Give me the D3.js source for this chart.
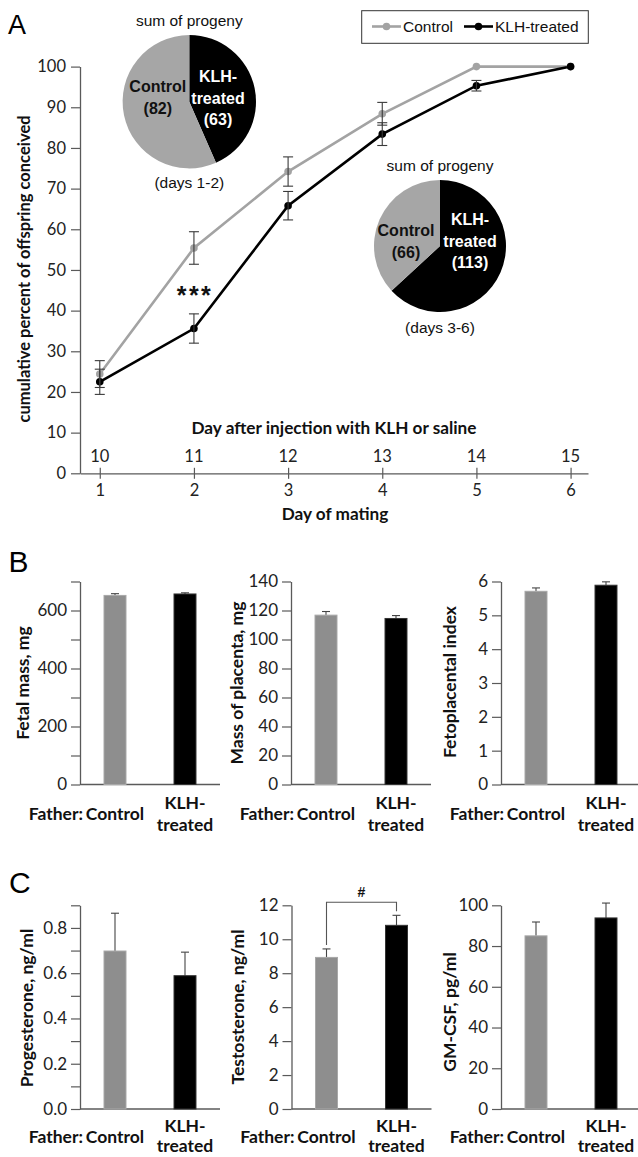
<!DOCTYPE html>
<html><head><meta charset="utf-8">
<script src="https://cdn.jsdelivr.net/npm/d3@7"></script>
<style>
body{margin:0;background:#fff;}
svg{display:block;}
</style></head>
<body>
<svg id="chart" width="638" height="1157"></svg>
<script>
// ---------- DATA ----------
const matingDays = [1, 2, 3, 4, 5, 6];
const injectionDays = [10, 11, 12, 13, 14, 15];
const controlCum = [24.4, 55.4, 74.2, 88.4, 100, 100];
const controlErr = [3.3, 4.0, 3.6, 2.8, 0, 0];
const klhCum = [22.5, 35.6, 65.8, 83.4, 95.3, 100];
const klhErr = [3.1, 3.6, 3.5, 2.8, 1.3, 0];
const yTicksA = [0, 10, 20, 30, 40, 50, 60, 70, 80, 90, 100];

const pieDays12 = [{name: "KLH-treated", value: 63}, {name: "Control", value: 82}];
const pieDays36 = [{name: "KLH-treated", value: 113}, {name: "Control", value: 66}];

const groups = ["Control", "KLH-treated"];
const fetalMass = [652, 657], fetalMassErr = [6, 4];
const placentaMass = [116.8, 114.5], placentaMassErr = [2.5, 2.0];
const fetoplacental = [5.71, 5.89], fetoplacentalErr = [0.10, 0.10];
const progesterone = [0.698, 0.589], progesteroneErr = [0.167, 0.104];
const testosterone = [8.93, 10.82], testosteroneErr = [0.50, 0.59];
const gmcsf = [85.0, 93.8], gmcsfErr = [6.8, 7.3];

// ---------- STYLE ----------
const GRAY_LINE = "#a3a3a3", GRAY_PIE = "#a6a6a6", GRAY_BAR = "#8e8e8e";
const AXIS = "#5a5a5a";
const CAL = "Lato, 'Open Sans', sans-serif";
const ARIAL = "'Liberation Sans', Arial, sans-serif";

const svg = d3.select("#chart");
svg.append("rect").attr("width", 638).attr("height", 1157).attr("fill", "#fff");

// ---------- PANEL A ----------
const gA = svg.append("g");
const xA = d3.scaleLinear().domain([0.79, 6.185]).range([80, 588]);
const yA = d3.scaleLinear().domain([0, 100]).range([473.3, 66.6]);

gA.append("text").text("A").attr("x", 8).attr("y", 33.5)
  .attr("font-family", ARIAL).attr("font-size", 27).attr("fill", "#000");

const yAxA = gA.append("g").attr("transform", "translate(80,0)")
  .call(d3.axisLeft(yA).tickValues(yTicksA).tickSize(9).tickSizeOuter(0).tickPadding(5));
yAxA.select(".domain").attr("stroke", AXIS).attr("stroke-width", 1.3);
yAxA.selectAll(".tick line").attr("stroke", AXIS).attr("stroke-width", 1.2);
yAxA.selectAll(".tick text").attr("font-family", CAL).attr("font-size", 16.5).attr("fill", "#222");

const xAxA = gA.append("g").attr("transform", "translate(0,473.3)")
  .call(d3.axisBottom(xA).tickValues(matingDays).tickFormat(d3.format("d")).tickSize(5.5).tickSizeOuter(0).tickPadding(6));
xAxA.select(".domain").attr("stroke", AXIS).attr("stroke-width", 1.3);
xAxA.selectAll(".tick line").attr("y1", -5.5).attr("stroke", AXIS).attr("stroke-width", 1.2);
xAxA.selectAll(".tick text").attr("font-family", CAL).attr("font-size", 16.5).attr("fill", "#222")
  .attr("y", 11).attr("dy", "0.71em");

gA.selectAll("text.inj").data(injectionDays).join("text").attr("class", "inj")
  .attr("x", (d, i) => xA(matingDays[i])).attr("y", 461.5)
  .attr("text-anchor", "middle").attr("font-family", CAL).attr("font-size", 16.5).attr("fill", "#222")
  .text(d => d);

gA.append("text").text("Day after injection with KLH or saline")
  .attr("x", 334).attr("y", 434).attr("text-anchor", "middle")
  .attr("font-family", CAL).attr("font-weight", "bold").attr("font-size", 17.2).attr("fill", "#111");
gA.append("text").text("Day of mating")
  .attr("x", 335).attr("y", 519.5).attr("text-anchor", "middle")
  .attr("font-family", CAL).attr("font-weight", "bold").attr("font-size", 17.2).attr("fill", "#111");
gA.append("text").text("cumulative percent of offspring conceived")
  .attr("transform", "translate(30,269) rotate(-90)").attr("text-anchor", "middle")
  .attr("font-family", CAL).attr("font-weight", "bold").attr("font-size", 16.5).attr("fill", "#111");

const series = [
  {vals: controlCum, errs: controlErr, color: GRAY_LINE},
  {vals: klhCum, errs: klhErr, color: "#000"}
];
const lineA = d3.line().x((d, i) => xA(matingDays[i])).y(d => yA(d));
series.forEach(s => {
  gA.append("path").attr("d", lineA(s.vals)).attr("fill", "none")
    .attr("stroke", s.color).attr("stroke-width", 2.6);
});
series.forEach(s => {
  gA.selectAll(null).data(s.vals).join("circle")
    .attr("cx", (d, i) => xA(matingDays[i])).attr("cy", d => yA(d)).attr("r", 3.8)
    .attr("fill", s.color);
});
series.forEach(s => {
  s.vals.forEach((v, i) => {
    const e = s.errs[i];
    if (!e) return;
    const x = xA(matingDays[i]);
    const eg = gA.append("g").attr("stroke", "#3a3a3a").attr("stroke-width", 1.1);
    eg.append("line").attr("x1", x).attr("x2", x).attr("y1", yA(v - e)).attr("y2", yA(v + e));
    eg.append("line").attr("x1", x - 5).attr("x2", x + 5).attr("y1", yA(v - e)).attr("y2", yA(v - e));
    eg.append("line").attr("x1", x - 5).attr("x2", x + 5).attr("y1", yA(v + e)).attr("y2", yA(v + e));
  });
});

gA.append("text").text("***").attr("x", 195).attr("y", 304)
  .attr("text-anchor", "middle").attr("font-family", ARIAL).attr("font-weight", "bold")
  .attr("font-size", 25).attr("letter-spacing", 2.5).attr("fill", "#111");

// legend
const leg = gA.append("g");
leg.append("rect").attr("x", 361.7).attr("y", 10.7).attr("width", 226.6).attr("height", 32.6)
  .attr("fill", "#fff").attr("stroke", "#333").attr("stroke-width", 1);
[[372, 401, GRAY_LINE, "Control", 403], [464, 493, "#000", "KLH-treated", 495]].forEach(([a, b, c, t, tx]) => {
  leg.append("line").attr("x1", a).attr("x2", b).attr("y1", 26.5).attr("y2", 26.5)
    .attr("stroke", c).attr("stroke-width", 2.6);
  leg.append("circle").attr("cx", (a + b) / 2).attr("cy", 26.5).attr("r", 3.8).attr("fill", c);
  leg.append("text").text(t).attr("x", tx).attr("y", 32).attr("font-family", ARIAL)
    .attr("font-size", 15.5).attr("fill", "#111");
});

// pies
const pieGen = d3.pie().sort(null).value(d => d.value);
function drawPie(data, cx, cy, r, daysLabel, labelPos) {
  const g = gA.append("g").attr("transform", `translate(${cx},${cy})`);
  const arc = d3.arc().innerRadius(0).outerRadius(r);
  g.selectAll("path").data(pieGen(data)).join("path").attr("d", arc)
    .attr("fill", d => d.data.name === "Control" ? GRAY_PIE : "#000");
  g.append("text").text("sum of progeny").attr("x", 0).attr("y", -81 + 5.5)
    .attr("text-anchor", "middle").attr("font-family", ARIAL).attr("font-size", 15.5).attr("fill", "#111");
  g.append("text").text(daysLabel).attr("x", 0).attr("y", 81 + 5.5)
    .attr("text-anchor", "middle").attr("font-family", ARIAL).attr("font-size", 15.5).attr("fill", "#111");
  const ctrl = data.find(d => d.name === "Control"), klh = data.find(d => d.name !== "Control");
  const lines = [
    [labelPos.c[0], labelPos.c[1], "Control", "#111"],
    [labelPos.c[0], labelPos.c[1] + 21.5, `(${ctrl.value})`, "#111"],
    [labelPos.k[0], labelPos.k[1], "KLH-", "#fff"],
    [labelPos.k[0], labelPos.k[1] + 21.5, "treated", "#fff"],
    [labelPos.k[0], labelPos.k[1] + 43, `(${klh.value})`, "#fff"]
  ];
  lines.forEach(([x, y, t, c]) => {
    g.append("text").text(t).attr("x", x).attr("y", y + 6).attr("text-anchor", "middle")
      .attr("font-family", ARIAL).attr("font-weight", "bold").attr("font-size", 16).attr("fill", c);
  });
}
drawPie(pieDays12, 189.3, 101.7, 66.7, "(days 1-2)", {c: [-31.5, -15.5], k: [28.7, -25.7]});
drawPie(pieDays36, 440, 246, 66, "(days 3-6)", {c: [-34, -16], k: [30, -27]});

// ---------- PANELS B & C ----------
svg.append("text").text("B").attr("x", 8.5).attr("y", 572)
  .attr("font-family", ARIAL).attr("font-size", 30).attr("fill", "#000");
svg.append("text").text("C").attr("x", 9).attr("y", 893)
  .attr("font-family", ARIAL).attr("font-size", 30).attr("fill", "#000");

function barChart(o) {
  const g = svg.append("g");
  const x = d3.scaleBand().domain(groups).range([o.x0, o.x0 + 140]).paddingInner(0.686).paddingOuter(0.343);
  const y = d3.scaleLinear().domain([0, o.max]).range([o.y0, o.y1]);
  const ticks = d3.range(0, o.max + o.step / 2, o.step);
  const ax = g.append("g").attr("transform", `translate(${o.x0},0)`)
    .call(d3.axisLeft(y).tickValues(ticks).tickSize(9).tickSizeOuter(0).tickPadding(4)
      .tickFormat((d, i) => (i % o.every === 0) ? d3.format(o.fmt)(d) : ""));
  ax.select(".domain").attr("stroke", AXIS).attr("stroke-width", 1.3);
  ax.selectAll(".tick line").attr("stroke", AXIS).attr("stroke-width", 1.2);
  ax.selectAll(".tick text").attr("font-family", CAL).attr("font-size", 17).attr("fill", "#222");
  g.append("line").attr("x1", o.x0).attr("x2", o.x0 + 140).attr("y1", o.y0).attr("y2", o.y0)
    .attr("stroke", AXIS).attr("stroke-width", 1.3);
  groups.forEach((gr, i) => {
    const v = o.vals[i], e = o.errs[i];
    const bx = x(gr), bw = x.bandwidth(), cx = bx + bw / 2;
    g.append("line").attr("x1", cx).attr("x2", cx).attr("y1", y(v)).attr("y2", y(v + e))
      .attr("stroke", "#444").attr("stroke-width", 1.1);
    g.append("line").attr("x1", cx - 4).attr("x2", cx + 4).attr("y1", y(v + e)).attr("y2", y(v + e))
      .attr("stroke", "#444").attr("stroke-width", 1.1);
    g.append("rect").attr("x", bx).attr("y", y(v)).attr("width", bw).attr("height", o.y0 - y(v))
      .attr("fill", i === 0 ? GRAY_BAR : "#000").attr("stroke", i === 0 ? "#a8a8a8" : "#333").attr("stroke-width", 1);
  });
  const c0 = x(groups[0]) + x.bandwidth() / 2, c1 = x(groups[1]) + x.bandwidth() / 2;
  const tStyle = s => s.attr("font-family", CAL).attr("font-weight", "bold").attr("font-size", 17.5).attr("fill", "#111");
  const off = o.off;
  g.append("text").text("Father:").attr("x", c0 - 32).attr("y", o.y0 + off[0]).attr("text-anchor", "end").call(tStyle);
  g.append("text").text("Control").attr("x", c0).attr("y", o.y0 + off[0]).attr("text-anchor", "middle").call(tStyle);
  g.append("text").text("KLH-").attr("x", c1).attr("y", o.y0 + off[1]).attr("text-anchor", "middle").call(tStyle);
  g.append("text").text("treated").attr("x", c1).attr("y", o.y0 + off[2]).attr("text-anchor", "middle").call(tStyle);
  g.append("text").text(o.label)
    .attr("transform", `translate(${o.lx},${o.ly}) rotate(-90)`).attr("text-anchor", "middle").call(tStyle);
  if (o.bracket) {
    const yb = y(o.bracket);
    const yl = y(o.vals[0] + o.errs[0]) - 4, yr = y(o.vals[1] + o.errs[1]) - 4;
    g.append("path").attr("d", `M${c0},${yl}V${yb}H${c1}V${yr}`).attr("fill", "none")
      .attr("stroke", "#555").attr("stroke-width", 1.1);
    g.append("text").text("#").attr("x", (c0 + c1) / 2).attr("y", yb - 5.5).attr("text-anchor", "middle")
      .attr("font-family", ARIAL).attr("font-weight", "bold").attr("font-size", 14).attr("fill", "#111");
  }
}

const yB0 = 784.5, yB1 = 581.5, yC0 = 1109, yC1 = 905.3;
const offB = [35, 24, 46], offC = [33.5, 22.5, 43];
barChart({x0: 80, y0: yB0, y1: yB1, max: 700, step: 100, every: 2, fmt: "d", vals: fetalMass, errs: fetalMassErr, label: "Fetal mass, mg", lx: 29, ly: 683, off: offB});
barChart({x0: 291, y0: yB0, y1: yB1, max: 140, step: 20, every: 1, fmt: "d", vals: placentaMass, errs: placentaMassErr, label: "Mass of placenta, mg", lx: 243, ly: 683, off: offB});
barChart({x0: 501, y0: yB0, y1: yB1, max: 6, step: 1, every: 1, fmt: "d", vals: fetoplacental, errs: fetoplacentalErr, label: "Fetoplacental index", lx: 456, ly: 682, off: offB});
barChart({x0: 80, y0: yC0, y1: yC1, max: 0.9, step: 0.1, every: 2, fmt: ".1f", vals: progesterone, errs: progesteroneErr, label: "Progesterone, ng/ml", lx: 33, ly: 1008, off: offC});
barChart({x0: 291.5, y0: yC0, y1: yC1, max: 12, step: 2, every: 1, fmt: "d", vals: testosterone, errs: testosteroneErr, label: "Testosterone, ng/ml", lx: 244, ly: 1007, bracket: 12.18, off: offC});
barChart({x0: 501, y0: yC0, y1: yC1, max: 100, step: 20, every: 1, fmt: "d", vals: gmcsf, errs: gmcsfErr, label: "GM-CSF, pg/ml", lx: 456, ly: 1012, off: offC});
</script>
</body></html>
